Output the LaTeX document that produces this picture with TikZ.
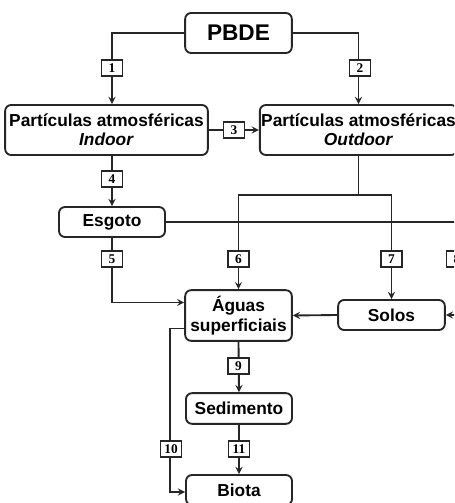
\documentclass[tikz,border=0pt]{standalone}
\usepackage{fontspec}
\setmainfont{Liberation Sans}
\newfontfamily\numfont{Liberation Serif}
\usetikzlibrary{calc}
\usetikzlibrary{positioning}
\usetikzlibrary{arrows}

\begin{document}
\begin{tikzpicture}[->, >=stealth, x=0.75pt, y=-0.75pt, line width=1.4pt, draw=black!85, font=\bfseries]
    \tikzstyle{box}=[draw=black!85,rectangle,rounded corners=4.5pt,fill=white,align=center,inner sep=1pt,font=\fontsize{13}{14.5}\selectfont\bfseries]
    \tikzstyle{num}=[draw=black!85,rectangle,fill=white,minimum width=15.75pt,minimum height=12pt,inner sep=0pt,line width=1.1pt,font=\numfont\fontsize{10}{12}\selectfont\bfseries]

    \useasboundingbox (0,0) rectangle (454,503);
    \clip (0,0) rectangle (454,503);

	\node[box, minimum width=80pt, minimum height=30pt, font=\fontsize{17}{19}\selectfont\bfseries] (pbde) at (238.5,33) {PBDE};
	\node[box, minimum width=152pt, minimum height=37.5pt] (indoor) at (106.5,130) {Partículas atmosféricas \\ \textit{Indoor}};
	\node[box, minimum width=143pt, minimum height=37.5pt] (outdoor) at (358.5,130) {Partículas atmosféricas \\ \textit{Outdoor}};
	\node[box, minimum width=79.5pt, minimum height=22.5pt] (esgoto) at (112,222) {Esgoto};
	\node[box, minimum width=80pt, minimum height=38pt] (aguas) at (238.5,315.5) {Águas \\ superficiais};
	\node[box, minimum width=80pt, minimum height=22.5pt] (solos) at (391.5,315) {Solos};
	\node[box, minimum width=79.5pt, minimum height=23pt] (sedimento) at (239,408.5) {Sedimento};
	\node[box, minimum width=79.5pt, minimum height=22.5pt] (biota) at (239,490) {Biota};

	\coordinate (split) at ($(outdoor.south)+(0,39)$) {};

    \draw (pbde.west) -| (esgoto |- indoor.north);
    \draw (pbde.east) -| (outdoor.north);
    \draw (indoor.east) -- (outdoor.west);
    \draw (esgoto |- indoor.south) -- (esgoto.north);
    \draw[-] (outdoor.south) -- (split);
    \draw (split) -| (aguas.north);
    \draw (split) -| (solos.north);
    \draw (esgoto.east) -- ++(292,0) |- (solos.east);
    \draw (esgoto.south) |- ($(aguas.west)+(0,-13)$);
    \draw (solos.west) -- (aguas.east);
    \draw (aguas.south) -- (sedimento.north);
    \draw ($(aguas.west)+(0,13)$) -- ++(-14,0) |- ($(biota.west)+(0,2)$);
    \draw (sedimento.south) -- (biota.north);

    % numbered flows
    \node[num] (n1) at (112,68) {1};
    \node[num] (n2) at (360,68) {2};
    \node[num] (n3) at ($(indoor.east)!0.5!(outdoor.west)$) {3};
    \node[num] (n4) at (112,179) {4};
    \node[num] (n5) at (112,259) {5};
    \node[num] (n6) at (238.5,259) {6};
    \node[num] (n7) at (391.5,259) {7};
    \node[num] (n8) at (457,259) {8};
    \node[num] (n9) at (238.5,366) {9};
    \node[num] (n10) at (171,449) {10};
    \node[num] (n11) at (239,449) {11};
\end{tikzpicture}
\end{document}
